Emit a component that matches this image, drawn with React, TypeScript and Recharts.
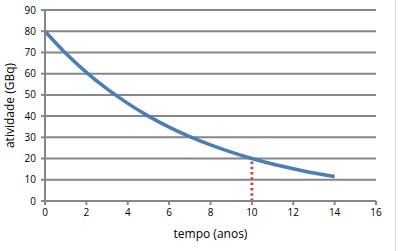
import { CartesianGrid, Line, LineChart, ReferenceLine, XAxis, YAxis, Label } from "recharts";

// valores (anos, GBq)
const years = [0, 1, 2, 3, 4, 5, 6, 7, 8, 9, 10, 11, 12, 13, 14];
const activity = [80, 69.6, 60.6, 52.8, 46, 40, 34.8, 30.3, 26.4, 23, 20, 17.4, 15.2, 13.2, 11.5];
const xTicks = [0, 2, 4, 6, 8, 10, 12, 14, 16];
const yTicks = [0, 10, 20, 30, 40, 50, 60, 70, 80, 90];
const markYear = 10;
const markValue = 20;

const data = years.map((t, i) => ({ t, a: activity[i] }));

const AXIS = "#868686";
const FONT = "'Open Sans', 'Liberation Sans', sans-serif";

export default function App() {
    return (
        <div style={{ position: "absolute", left: 0, top: 0, width: 401, height: 251, background: "#fff", fontFamily: FONT }}>
            <div style={{ position: "absolute", left: 395, top: 0, width: 1, height: 251, background: "#d9d9d9" }} />
            <LineChart width={401} height={251} data={data} margin={{ top: 10, right: 25, bottom: 0, left: 0 }}>
                <CartesianGrid vertical={false} stroke={AXIS} strokeWidth={2} />
                <XAxis
                    dataKey="t"
                    type="number"
                    domain={[0, 16]}
                    ticks={xTicks}
                    interval={0}
                    height={50}
                    stroke={AXIS}
                    strokeWidth={2}
                    tickSize={4}
                    tickMargin={4}
                    tick={{ fontSize: 10, fill: "#000", fontFamily: FONT }}
                >
                    <Label value="tempo (anos)" position="insideBottom" offset={13} style={{ fontSize: 12, fill: "#000", fontFamily: FONT }} />
                </XAxis>
                <YAxis
                    type="number"
                    domain={[0, 90]}
                    ticks={yTicks}
                    interval={0}
                    width={45}
                    stroke={AXIS}
                    strokeWidth={2}
                    tickSize={4}
                    tickMargin={5}
                    tick={{ fontSize: 10, fill: "#000", fontFamily: FONT }}
                >
                    <Label value="atividade (GBq)" angle={-90} position="insideLeft" offset={10} style={{ fontSize: 12, fill: "#000", fontFamily: FONT, textAnchor: "middle" }} />
                </YAxis>
                <ReferenceLine
                    segment={[{ x: markYear, y: 0 }, { x: markYear, y: markValue }]}
                    stroke="#c0504d"
                    strokeWidth={3}
                    strokeDasharray="2.5 2.8"
                />
                <Line
                    type="monotone"
                    dataKey="a"
                    stroke="#4a7ebb"
                    strokeWidth={3.5}
                    dot={false}
                    isAnimationActive={false}
                />
            </LineChart>
        </div>
    );
}
